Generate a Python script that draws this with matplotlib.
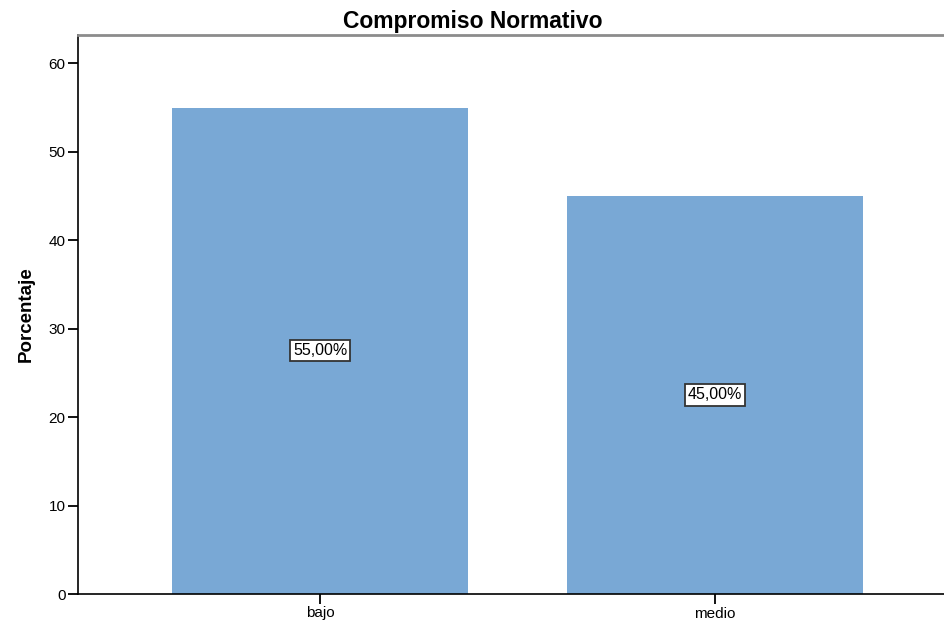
import matplotlib
matplotlib.use("Agg")
import matplotlib.pyplot as plt

categorias = ["bajo", "medio"]
porcentajes = [55.0, 45.0]
etiquetas = ["55,00%", "45,00%"]

plt.rcParams['font.family'] = ['Liberation Sans', 'DejaVu Sans']

fig = plt.figure(figsize=(9.45, 6.22), dpi=100)
ax = fig.add_axes([78 / 945, 28 / 622, 1 - 78 / 945, 559 / 622])

pos = range(len(categorias))
ax.bar(pos, porcentajes, width=0.75, color="#79a8d5", edgecolor="none")

# etiqueta de valor en el centro de cada barra
for x, v, txt in zip(pos, porcentajes, etiquetas):
    ax.text(x, v / 2, txt, ha="center", va="center", fontsize=11.5,
            bbox=dict(boxstyle="square,pad=0.2", facecolor="white",
                      edgecolor="#333333", linewidth=1.3))

ax.set_xlim(-0.613, 1.582)
ax.set_ylim(0, 63.2)
ax.set_yticks(range(0, 61, 10))
ax.set_xticks(list(pos))
ax.set_xticklabels(categorias)

ax.spines["right"].set_visible(False)
ax.spines["top"].set_color("#8c8c8c")
ax.spines["top"].set_linewidth(2)
ax.spines["left"].set_linewidth(1.2)
ax.spines["bottom"].set_linewidth(1.2)
ax.tick_params(direction="out", length=7, width=1.3, labelsize=11, pad=2)

ax.set_ylabel("Porcentaje", fontsize=13.5, fontweight="bold", labelpad=10)
fig.text(0.5, 1 - 28 / 622, "Compromiso Normativo", ha="center",
         va="baseline", fontsize=16.5, fontweight="bold")

fig.savefig("out.png", dpi=100)
